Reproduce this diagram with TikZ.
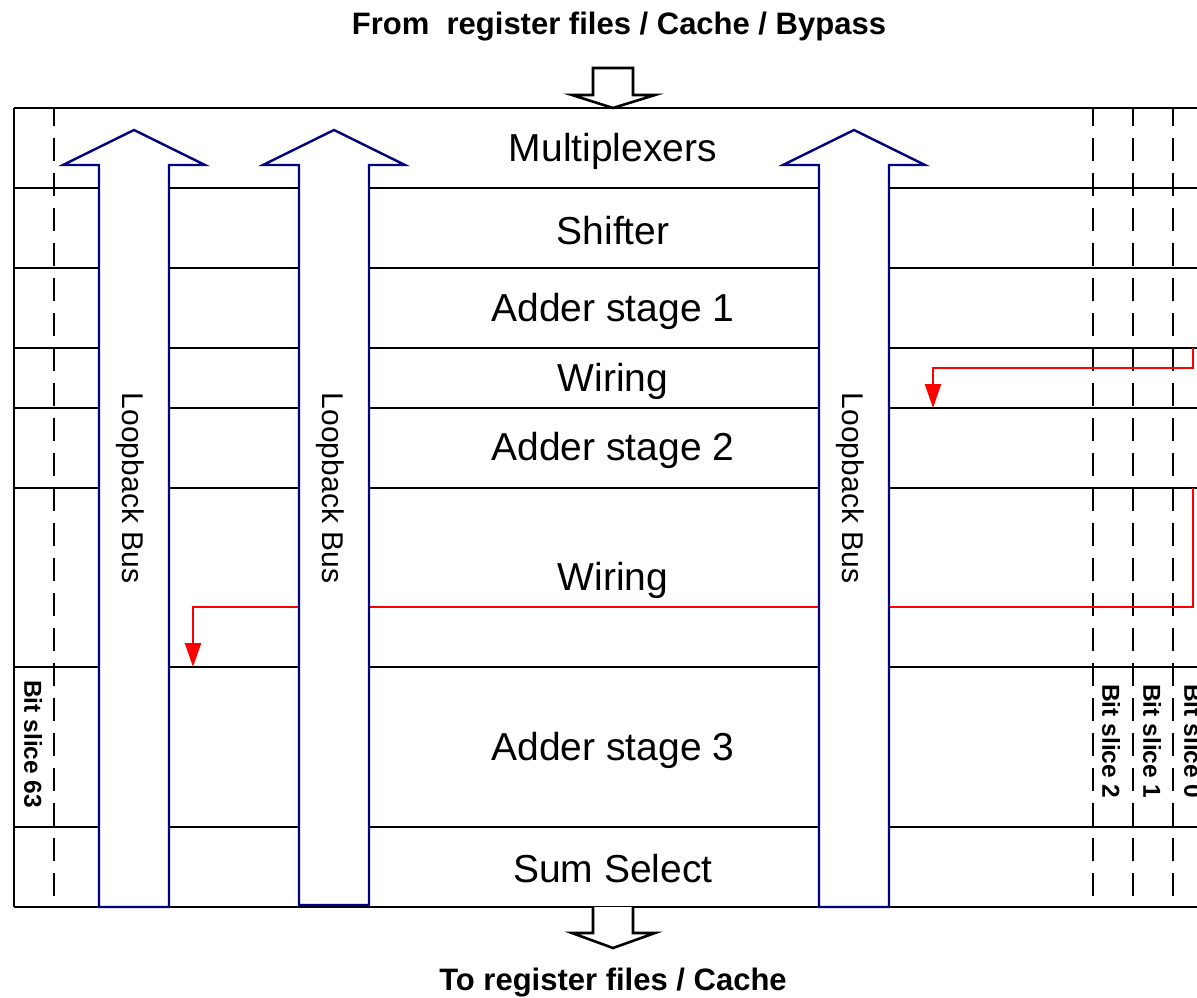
\documentclass[tikz,border=0pt]{standalone}
\usepackage{fontspec}
\setmainfont{Liberation Sans}
\usetikzlibrary{arrows.meta}
\definecolor{busblue}{RGB}{0,0,128}
\begin{document}
\begin{tikzpicture}[x=1pt,y=-1pt,
  frame/.style={line width=2.4pt, black},
  slice/.style={line width=2.4pt, dash pattern=on 23pt off 12pt, dash phase=5pt},
  bus/.style={draw=busblue, line width=2.4pt, fill=white, line join=miter},
  hollow/.style={draw=black, line width=2.6pt, fill=white, line join=miter},
  wire/.style={red, line width=2.4pt, -{Triangle[length=24pt,width=16pt]}},
  stagelabel/.style={font=\fontsize{39}{44}\selectfont, inner sep=0pt},
  buslabel/.style={font=\fontsize{30}{34}\selectfont, rotate=-90, inner sep=0pt},
  slicelabel/.style={font=\bfseries\fontsize{24.5}{28}\selectfont, rotate=-90, anchor=west, inner sep=0pt},
  iolabel/.style={font=\bfseries\fontsize{31}{34}\selectfont, inner sep=0pt}]

\useasboundingbox (0,0) rectangle (1197,998);

% row boundaries
\foreach \y in {108,188,268,348,408,488,667,827,907}
  \draw[frame] (14,\y) -- (1205,\y);
\draw[frame] (14,108) -- (14,907);

% bit slice boundaries
\foreach \x in {54,1093,1133,1173}
  \draw[slice] (\x,108) -- (\x,907);

% red wiring connectors
\coordinate (w1s) at (1193,348);
\coordinate (w1a) at (1193,368);
\coordinate (w1b) at (933,368);
\coordinate (w1e) at (933,408);
\draw[wire] (w1s) -- (w1a) -- (w1b) -- (w1e);
\coordinate (w2s) at (1193,488);
\coordinate (w2a) at (1193,607);
\coordinate (w2b) at (193,607);
\coordinate (w2e) at (193,667);
\draw[wire] (w2s) -- (w2a) -- (w2b) -- (w2e);

% loopback buses
\foreach \c/\b in {134/907,334/905,854/907}
  \draw[bus] (\c-35,\b) -- (\c-35,165) -- (\c-71,165) -- (\c,130) -- (\c+71,165) -- (\c+35,165) -- (\c+35,\b) -- cycle;
\node[buslabel] (lb1) at (130,488) {Loopback Bus};
\node[buslabel] (lb2) at (330,488) {Loopback Bus};
\node[buslabel] (lb3) at (850,488) {Loopback Bus};

% stage labels
\node[stagelabel] (mux) at (613,151) {Multiplexers};
\node[stagelabel] (shf) at (613,231) {Shifter};
\node[stagelabel] (ad1) at (613,311) {Adder stage 1};
\node[stagelabel] (wr1) at (613,381) {Wiring};
\node[stagelabel] (ad2) at (613,450) {Adder stage 2};
\node[stagelabel] (wr2) at (613,580) {Wiring};
\node[stagelabel] (ad3) at (613,750) {Adder stage 3};
\node[stagelabel] (sum) at (613,869) {Sum Select};

% bit slice labels
\node[slicelabel] (bs63) at (33,680) {Bit slice 63};
\node[slicelabel] (bs2) at (1111,684) {Bit slice 2};
\node[slicelabel] (bs1) at (1152,684) {Bit slice 1};
\node[slicelabel] (bs0) at (1193,684) {Bit slice 0};

% input / output hollow arrows
\draw[hollow] (593,68) -- (633,68) -- (633,95) -- (655,95) -- (613,108) -- (572,95) -- (593,95) -- cycle;
\draw[hollow] (593,907) -- (593,933) -- (572,933) -- (613,948) -- (655,933) -- (633,933) -- (633,907);

\node[iolabel] (src) at (619,27) {From\ \ register files / Cache / Bypass};
\node[iolabel] (dst) at (613,983) {To register files / Cache};
\end{tikzpicture}
\end{document}
